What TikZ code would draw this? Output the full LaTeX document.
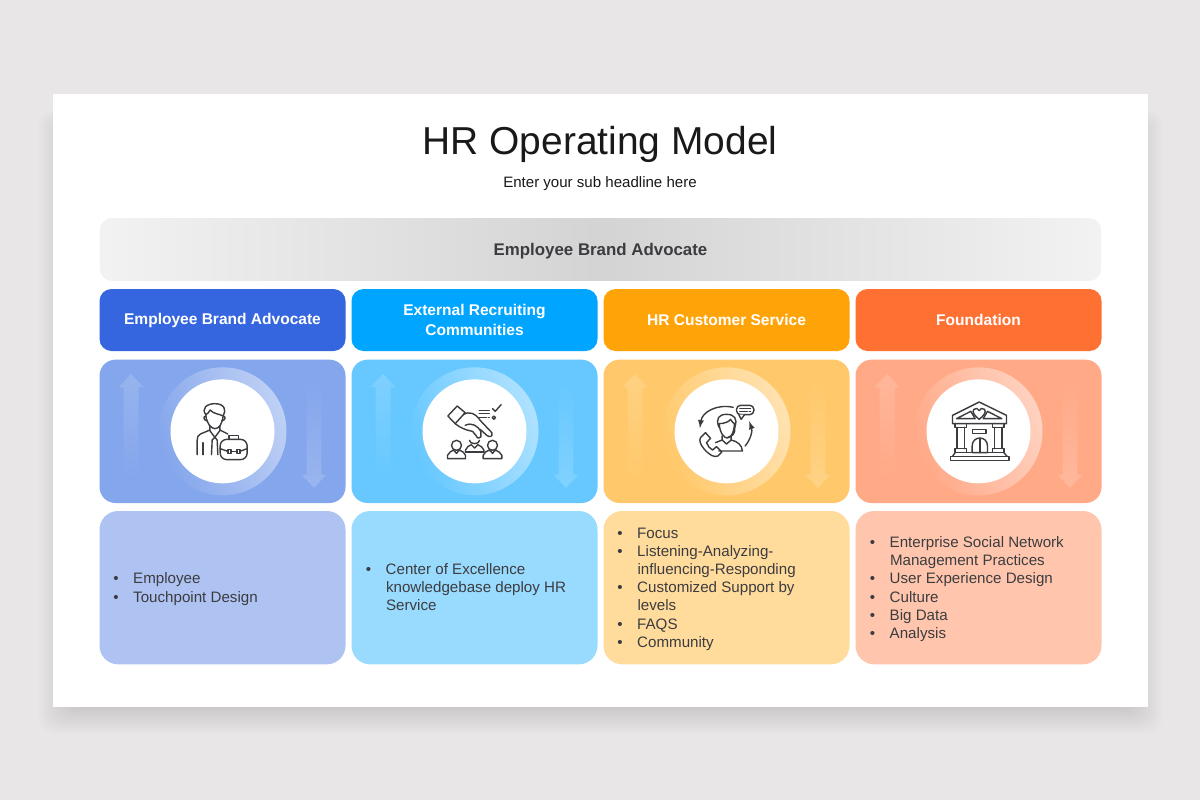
\documentclass[tikz,border=0pt]{standalone}
\usepackage{fontspec}
\setmainfont{Liberation Sans}
\usepackage{tikz}
\usetikzlibrary{positioning,fadings}

\definecolor{pagegray}{HTML}{E8E6E7}
\definecolor{inkgray}{HTML}{3C3C40}
\definecolor{blueA}{HTML}{3566DF}
\definecolor{blueB}{HTML}{84A6EC}
\definecolor{blueC}{HTML}{AEC3F2}
\definecolor{cyanA}{HTML}{00A5FF}
\definecolor{cyanB}{HTML}{66C8FF}
\definecolor{cyanC}{HTML}{99DBFF}
\definecolor{amberA}{HTML}{FFA408}
\definecolor{amberB}{HTML}{FFC96B}
\definecolor{amberC}{HTML}{FFDB9C}
\definecolor{coralA}{HTML}{FF7033}
\definecolor{coralB}{HTML}{FFA987}
\definecolor{coralC}{HTML}{FFC6AD}

\tikzfading[name=ringfade, left color=transparent!100, right color=transparent!52]
\tikzfading[name=upfade, top color=transparent!84, bottom color=transparent!100]
\tikzfading[name=downfade, top color=transparent!100, bottom color=transparent!82]

\newcommand{\arrowpair}[1]{%
  \fill[white, path fading=upfade] ([xshift=-68.6pt,yshift=43pt]#1.center) -- ++(9.4pt,-10pt) -- ++(-3.8pt,0) -- ++(0,-70pt) -- ++(-11.2pt,0) -- ++(0,70pt) -- ++(-3.8pt,0) -- cycle;
  \fill[white, path fading=downfade] ([xshift=68.6pt,yshift=-42.4pt]#1.center) -- ++(9.4pt,10pt) -- ++(-3.8pt,0) -- ++(0,72pt) -- ++(-11.2pt,0) -- ++(0,-72pt) -- ++(-3.8pt,0) -- cycle;
}

\begin{document}
\begin{tikzpicture}[
    x=.75pt, y=-.75pt,
    box/.style={rectangle, minimum width=184.5pt, inner sep=0pt, outer sep=0pt},
    headbox/.style={box, minimum height=46.5pt, rounded corners=9pt, text=white, align=center, font=\fontsize{11.65pt}{14.6pt}\selectfont\bfseries},
    iconbox/.style={box, minimum height=107.5pt, rounded corners=12pt, below=6.5pt of #1},
    listbox/.style={box, minimum height=115pt, rounded corners=14pt, below=6pt of #1},
    listtext/.style={anchor=west, inner sep=0pt, text=inkgray, font=\fontsize{11.35pt}{13.65pt}\selectfont, align=left},
    ring/.style={circle, fill=white, path fading=ringfade, fading angle=20, minimum size=96pt, inner sep=0pt},
    disc/.style={circle, fill=white, minimum size=78pt, inner sep=0pt},
    icon/.style={shift={(#1.center)}, x=.25pt, y=-.25pt, shift={(-368,-228)}, draw=inkgray, line width=1.05pt, line join=round, line cap=round}
]
\useasboundingbox (0,0) rectangle (1200,800);
\fill[pagegray] (0,0) rectangle (1200,800);
% soft shadow round the card
\foreach \s in {1,...,30}
  \fill[black, opacity=.005, rounded corners=12pt] (68-\s,125-\s*.5) rectangle (1133+\s,707+\s*.9);
\fill[white] (53,94) rectangle (1148,707);

\node[inner sep=0pt, text=black!90, font=\fontsize{29.2pt}{34pt}\selectfont] (title) at (600,144) {HR Operating Model};
\node[inner sep=0pt, text=black!90, font=\fontsize{11.3pt}{14pt}\selectfont] (subtitle) at (600,184) {Enter your sub headline here};

\node[rectangle, rounded corners=9pt, minimum width=751pt, minimum height=47pt, inner sep=0pt, left color=black!5, right color=black!5, middle color=black!17, text=inkgray, font=\fontsize{12.65pt}{15pt}\selectfont\bfseries] (banner) at (600.5,249.5) {\raisebox{-4.8pt}[0pt][0pt]{Employee Brand Advocate}};

% header row
\node[headbox, fill=blueA] (headA) at (222.5,320) {Employee Brand Advocate};
\node[headbox, fill=cyanA, right=4.5pt of headA] (headB) {External Recruiting\\Communities};
\node[headbox, fill=amberA, right=4.5pt of headB] (headC) {HR Customer Service};
\node[headbox, fill=coralA, right=4.5pt of headC] (headD) {Foundation};

% icon row
\node[iconbox=headA, fill=blueB] (iconA) {};
\node[iconbox=headB, fill=cyanB] (iconB) {};
\node[iconbox=headC, fill=amberB] (iconC) {};
\node[iconbox=headD, fill=coralB] (iconD) {};

\arrowpair{iconA}
\arrowpair{iconB}
\arrowpair{iconC}
\arrowpair{iconD}

\node[ring] (ringA) at (iconA.center) {};
\node[ring] (ringB) at (iconB.center) {};
\node[ring] (ringC) at (iconC.center) {};
\node[ring] (ringD) at (iconD.center) {};
\node[disc] (discA) at (iconA.center) {};
\node[disc] (discB) at (iconB.center) {};
\node[disc] (discC) at (iconC.center) {};
\node[disc] (discD) at (iconD.center) {};

% list row
\node[listbox=iconA, fill=blueC] (listA) {};
\node[listbox=iconB, fill=cyanC] (listB) {};
\node[listbox=iconC, fill=amberC] (listC) {};
\node[listbox=iconD, fill=coralC] (listD) {};

\node[listtext] (textA) at (113,589) {\textbullet\hspace{11pt}Employee\\\textbullet\hspace{11pt}Touchpoint Design};
\node[listtext] (textB) at (365.5,587) {\textbullet\hspace{11pt}Center of Excellence\\\hspace{15.2pt}knowledgebase deploy HR\\\hspace{15.2pt}Service};
\node[listtext] (textC) at (617,589) {\textbullet\hspace{11pt}Focus\\\textbullet\hspace{11pt}Listening-Analyzing-\\\hspace{15.2pt}influencing-Responding\\\textbullet\hspace{11pt}Customized Support by\\\hspace{15.2pt}levels\\\textbullet\hspace{11pt}FAQS\\\textbullet\hspace{11pt}Community};
\node[listtext] (textD) at (869.5,589) {\textbullet\hspace{11pt}Enterprise Social Network\\\hspace{15.2pt}Management Practices\\\textbullet\hspace{11pt}User Experience Design\\\textbullet\hspace{11pt}Culture\\\textbullet\hspace{11pt}Big Data\\\textbullet\hspace{11pt}Analysis};

% person with briefcase
\begin{scope}[icon=iconA]
\draw (318,180) .. controls (320,205) and (335,220) .. (345,220) .. controls (358,220) and (368,205) .. (370,180);
\draw (318,178) .. controls (304,160) and (320,145) .. (345,145) .. controls (375,145) and (380,165) .. (370,182) .. controls (360,176) and (340,176) .. (331,164) .. controls (328,172) and (322,175) .. (318,178);
\draw (318,182) .. controls (310,182) and (310,196) .. (322,196);
\draw (370,182) .. controls (378,182) and (378,196) .. (366,196);
\draw (330,212) -- (330,226) -- (345,246) -- (360,226) -- (360,212);
\draw (330,224) -- (302,236) .. controls (294,240) and (292,246) .. (292,255) -- (292,298);
\draw (360,224) -- (384,236);
\draw (310,262) -- (310,298);
\draw (345,246) -- (337,254) -- (335,298);
\draw (345,246) -- (352,254) -- (354,298);
\draw[rounded corners=5pt, fill=white] (361,252) rectangle (442,313);
\draw (388,252) -- (388,240) -- (416,240) -- (416,252);
\draw (361,280) -- (384,288);
\draw (442,280) -- (420,288);
\draw (384,282) rectangle (393,294);
\draw (412,282) rectangle (420,294);
\draw (393,288) -- (412,288);
\end{scope}

% hand picking people
\begin{scope}[icon=iconB]
\draw (288,182) -- (316,152) -- (340,172) -- (310,205) -- cycle;
\draw (335,177) .. controls (350,168) and (370,172) .. (385,195) -- (420,232) .. controls (424,246) and (412,246) .. (405,240) -- (385,222);
\draw (310,205) .. controls (325,218) and (345,225) .. (362,228);
\draw (340,210) .. controls (360,200) and (378,212) .. (387,228) -- (387,245) .. controls (380,250) and (372,248) .. (372,240) -- (362,228);
\draw (382,165) -- (412,165);
\draw (382,175) -- (412,175);
\draw (382,186) -- (403,186);
\draw (409,186) -- (412,186);
\draw (422,160) -- (430,168) -- (448,148);
\draw (426,187) circle[radius=5];
\draw (314,270) circle[radius=15];
\draw (422,270) circle[radius=15];
\draw (353,255) .. controls (352,268) and (384,268) .. (383,255);
\draw (287,310) -- (287,300) .. controls (290,290) and (300,288) .. (305,284) -- (314,294) -- (323,284) .. controls (330,288) and (340,292) .. (341,300) -- (341,310) -- cycle;
\draw (394,310) -- (394,300) .. controls (396,290) and (406,288) .. (413,284) -- (422,294) -- (431,284) .. controls (438,288) and (448,292) .. (450,300) -- (450,310) -- cycle;
\draw (341,290) -- (341,284) .. controls (344,274) and (352,272) .. (358,268) -- (368,278) -- (378,268) .. controls (386,272) and (394,276) .. (396,284) -- (396,290);
\draw (341,290) -- (396,290);
\end{scope}

% call centre agent
\begin{scope}[icon=iconC]
\draw[-latex] (388,156) .. controls (340,145) and (295,170) .. (288,218);
\draw[-latex] (424,272) .. controls (442,250) and (446,225) .. (436,198);
\draw[rounded corners=3pt] (398,150) rectangle (450,178);
\draw[fill=white] (405,178) -- (412,192) -- (422,178);
\draw (408,160) -- (440,160);
\draw (408,169) -- (430,169);
\draw (436,169) -- (440,169);
\draw (345,215) .. controls (335,190) and (345,177) .. (368,177) .. controls (392,177) and (402,190) .. (393,215);
\draw (346,205) .. controls (360,205) and (375,200) .. (380,192) .. controls (385,200) and (388,203) .. (392,205);
\draw (346,205) .. controls (348,235) and (362,248) .. (370,248) .. controls (380,248) and (390,235) .. (392,205);
\draw (393,215) .. controls (395,235) and (385,244) .. (372,246);
\draw (355,242) -- (355,254) -- (368,266) -- (382,254) -- (382,242);
\draw (382,254) .. controls (400,258) and (414,268) .. (416,287) -- (345,287);
\draw (355,254) -- (335,262);
\draw (305,232) -- (290,247) .. controls (285,255) and (290,268) .. (300,280) .. controls (315,298) and (332,308) .. (342,302) -- (354,290) -- (338,274) -- (326,284) .. controls (318,280) and (312,272) .. (308,262) -- (320,249) -- cycle;
\end{scope}

% building with heart
\begin{scope}[icon=iconD]
\draw (290,205) -- (290,180) -- (370,140) -- (452,180) -- (452,205) -- cycle;
\draw (302,190) -- (345,168) -- (358,190) -- cycle;
\draw (438,190) -- (395,168) -- (382,190) -- cycle;
\draw (370,192) .. controls (355,180) and (348,170) .. (354,162) .. controls (360,156) and (368,160) .. (370,166) .. controls (372,160) and (380,156) .. (386,162) .. controls (392,170) and (385,180) .. (370,192) -- cycle;
\draw (298,205) rectangle (332,216);
\draw (410,205) rectangle (444,216);
\draw (304,216) -- (304,280);
\draw (326,216) -- (326,280);
\draw (416,216) -- (416,280);
\draw (438,216) -- (438,280);
\draw (298,280) rectangle (332,292);
\draw (410,280) rectangle (444,292);
\draw (350,222) rectangle (390,235);
\draw (349,292) -- (349,272) .. controls (349,240) and (395,240) .. (395,272) -- (395,292) -- cycle;
\draw (372,250) -- (372,292);
\draw (332,292) -- (410,292);
\draw (298,292) -- (290,303);
\draw (444,292) -- (454,303);
\draw (284,303) rectangle (460,316);
\end{scope}
\end{tikzpicture}
\end{document}
